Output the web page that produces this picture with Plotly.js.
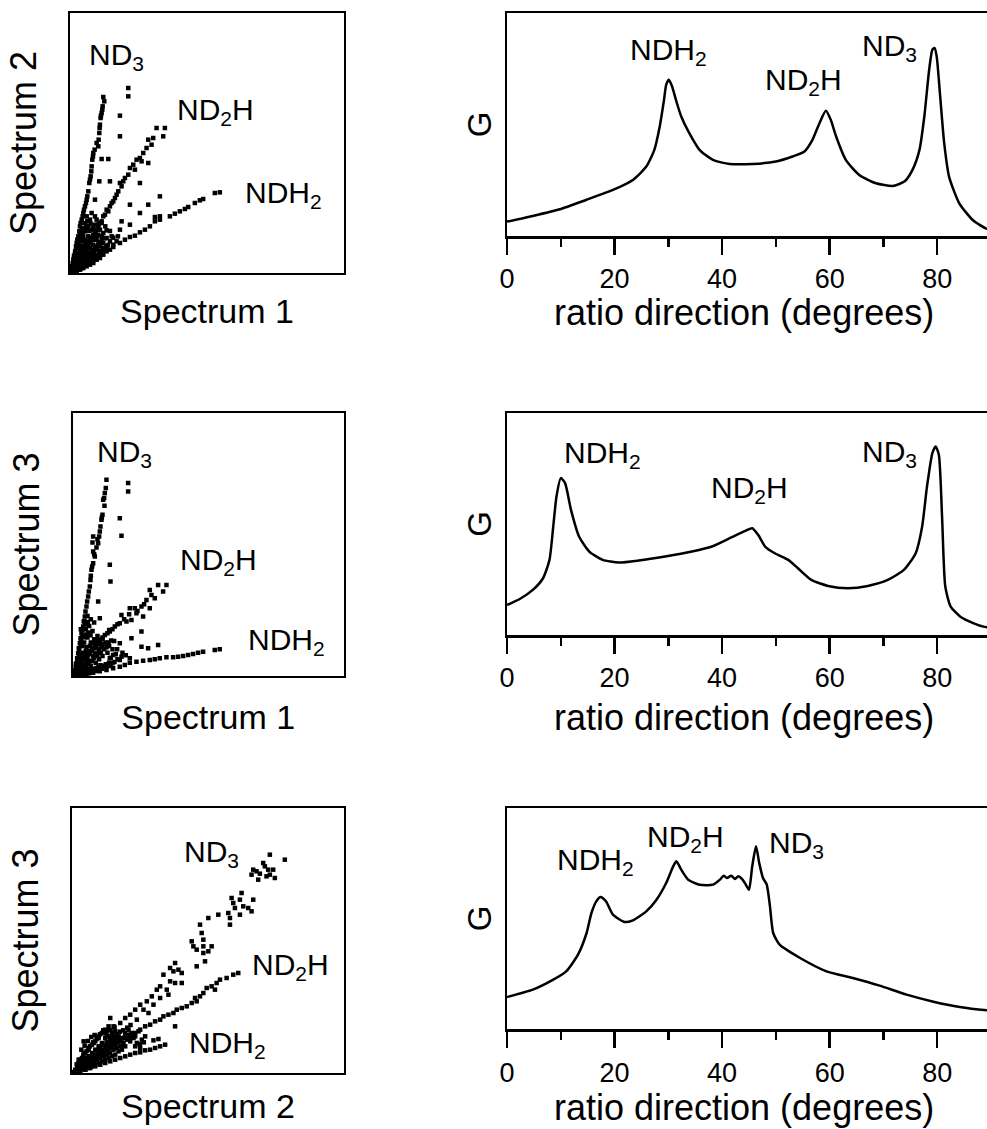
<!DOCTYPE html>
<html>
<head>
<meta charset="utf-8">
<script src="https://cdn.plot.ly/plotly-3.0.1.min.js"></script>
<style>
html, body { margin: 0; padding: 0; overflow: hidden; background: #fff; }
#chart { width: 1000px; height: 1129px; }
</style>
</head>
<body>
<div id="chart"></div>
<script>
// ---------------- DATA ----------------
// Scatter panel 1: Spectrum 1 (x) vs Spectrum 2 (y), arbitrary intensity units
const p1_ND3 = [[10,52.8],[10.3,51.5],[9.8,50],[9.5,48],[9.2,46.5],[9,44.5],[8.8,42],[8.5,38],[7,36],[6.7,34],[6.5,32],[6.2,29],[5.8,27],[5.5,24.5],[5,22],[4.5,20],[4,18],[3.5,16],[3,14],[2.5,11],[2,9],[1.5,6],[1,3],
  [9.7,49],[9.3,47.2],[8.9,43.5],[8.6,40],[8.0,39],[7.4,37],[6.9,35],[6.4,30.5],[6.0,28],[5.2,23],[4.8,21],[4.2,19],[3.8,17],[3.2,15],[2.8,12.5],[2.2,10],[1.8,8],[1.2,4.5],
  [17.5,55.5],[17.5,53],[15,47.2],[15,41],[11.5,34.2],[9.5,34.2],[8.8,27.5],[7.5,22]];
const p1_ND2H = [[28.5,43.5],[26,43.5],[28,41],[25,40.5],[23.5,40],[24.5,38.5],[23,37.5],[21,34.5],[21.5,33.5],[23.5,33],[19,32.5],[18,31.5],[17.5,29.5],[16,27.5],[15,27],[14.5,24.5],[14,23.5],[13,21.5],[12,20],[11.5,18.5],[10,17],[9.5,15.5],[8.5,14],[7.5,12],[6.5,10],[5.5,8],[4,6],[3,4],[2,2],
  [22,36],[20,34],[19.5,31],[16.5,28.5],[15.5,26],[13.5,22.5],[12.5,21],[11,19],[10.5,17.5],[9,15],[8,13],[7,11],[6,9],[5,7.5],[4.5,7],[3.5,5],[2.5,3],
  [21,27],[12,27.5],[18,20.5],[23.5,20.5],[21,18],[15.5,15.5],[18,14.5]];
const p1_NDH2 = [[45,24.2],[43.5,24],[40,22.2],[39,21.8],[37.5,21],[35.5,19.8],[34.5,19.2],[33,18.5],[31.5,17.8],[30,17],[27,16],[25.5,15.5],[24,14],[22.5,13],[21,12.2],[19.5,11.2],[18,10.8],[16.5,10],[15,9],[13,7.8],[11,6.5],[9,5.2],[7,3.8],[5,2.5],[3,1.5],
  [27,23],[27,17],[25.5,16.8],[15,13]];
const p1_core = [[0.5,0.5],[1,1],[1.5,0.8],[2,1.5],[1,2],[2.5,2],[3,2.5],[1.5,3],[2,3.5],[3,3],[4,3],[3.5,4],[2.5,4.5],[4.5,4.5],[5,4],[4,5.5],[3,6.5],[5.5,5.5],[6,5],[5,6.5],[4,8],[6.5,6.5],[7,6],[6,7.5],[5,9],[7.5,7.5],[8,7],[7,8.5],[6,10],[8.5,8.5],[9,8],[8,10],[7,11.5],[4.5,10],[3.5,9.5],[3,11.5],[5.5,11],[4.5,12.5],[6.5,13],[5.5,14],[4.5,15],[7.5,14.5],[9.5,10],[10,9],[11,10.5],[10,12],[12,9.5],[3.5,13],[2.5,9],[2,6],[1.5,5],[1,4],[0.5,2],[0.8,1.5],[2,0.5],[3,1],[4,1.5],[5,2],[6,2.5],[7,3],[8,4],[9,4.5],[10,5.5],[6,4],[7,5],[8,5.5],[9,6.5],[10,7.5],[11,8],[12,7],[13,8.5],[14,9.5],[12.5,11],[8.5,11.5],[9,13],[6,16],[5,17],[6.5,18],[7.5,17],[8,16],[9.5,15],[5,13.5],[4,11],
  [1.2,0.6],[1.8,1.2],[2.4,1.0],[2.8,1.8],[3.4,1.4],[3.8,2.2],[4.4,2.4],[4.8,3.2],[5.4,2.8],[5.8,3.6],[6.4,3.4],[6.8,4.2],[7.4,4.4],[7.8,5.0],[8.4,5.2],[8.8,6.0],[9.4,6.4],[9.8,7.0],[10.4,6.8],[10.8,7.6],[11.4,8.4],[1.4,1.8],[1.8,2.6],[2.2,2.4],[2.6,3.2],[3.2,3.8],[3.6,3.2],[4.2,4.0],[4.6,5.0],[5.2,4.8],[5.6,6.0],[6.2,5.6],[6.6,7.0],[7.2,6.6],[7.6,8.0],[8.2,7.6],[8.6,9.2],[9.2,9.0],[9.6,11.0],[10.4,10.4],[1.2,2.6],[1.6,3.8],[2.0,4.4],[2.4,5.4],[2.8,6.0],[3.2,7.4],[3.6,8.2],[4.2,7.0],[4.6,8.6],[5.2,8.0],[5.6,9.6],[6.2,9.0],[6.6,10.6],[7.2,10.0],[7.6,12.4],[8.2,11.2],[0.8,3.0],[1.2,5.2],[1.6,6.6],[2.0,7.6],[2.4,8.4],[2.8,10.2],[3.2,10.6],[3.8,12.0],[4.2,13.4],[4.8,14.2],[5.2,15.6],[5.8,12.6],[6.2,14.8],[7.0,13.6],[0.4,1.2],[0.6,0.2],[1.0,0.4],[13.0,10.6],[14.4,11.0],[12.0,12.6],[11.0,12.8],[10.6,14.0],[8.6,14.6]];

// Scatter panel 2: Spectrum 1 (x) vs Spectrum 3 (y)
const p2_ND3 = [[10.2,58.8],[10,56.3],[9.7,54.8],[9.5,53.3],[9.2,52.8],[9,48.3],[8.7,46.8],[8.4,44.8],[8.2,43.3],[8,41.8],[6.2,41.8],[7.7,39.8],[6.2,37.3],[6.7,35.8],[6.2,33.8],[5.7,31.8],[5.4,28.8],[5.2,26.8],[4.7,23.8],[4.2,20.8],[3.7,17.8],[3.2,14.8],[2.7,12.8],[2.2,9.8],[1.7,6.8],[1.2,3.8],
  [9.6,51],[8.8,47.5],[7.2,38.5],[6.5,36.5],[5.9,32.8],[5.5,30],[4.9,25.3],[4.4,22.3],[3.9,19.3],[3.4,16.3],[2.9,13.8],[2.4,11.3],[1.9,8.3],[1.4,5.3],[6,40],[7.5,41],
  [16.7,57.8],[16.7,55.3],[14.2,47.3],[14.7,42],[11.2,33.3],[11.4,28.3],[7.7,22.3],[11,13.8]];
const p2_ND2H = [[28.2,27.3],[25.7,27.3],[27.2,25.3],[23.2,25.8],[23.7,24.3],[22.2,22.8],[24.7,23.3],[20.7,20.8],[18.7,20.3],[17.2,20.3],[19.2,18.8],[23.2,20.3],[21.2,17.8],[17.7,16.8],[16.2,16.3],[14.7,18.3],[14.2,15.8],[12.7,14.8],[11.2,13.3],[9.7,12.3],[8.2,10.8],[6.7,9.3],[5.2,7.3],[3.7,5.3],[2.2,3.3],
  [13.5,15.5],[12,14],[10.5,12.8],[9,11.5],[7.5,10],[6,8.3],[4.5,6.3],[3,4.3],[15.5,17],[17,18.5],[19.5,19.5],[21.5,21.5],
  [20.7,13.3],[17.7,11.3],[14.2,9.8],[20.7,8.8],[22.7,8.3],[25.7,9.3],[8.2,17.3]];
const p2_NDH2 = [[44.2,8],[42.7,7.8],[39.2,7.3],[37.7,7],[36.2,6.6],[34.7,6.3],[33.2,6],[31.7,5.8],[30.2,5.6],[28.2,5.6],[26.2,5.3],[24.7,5],[23.2,4.8],[21.2,4.6],[19.2,4.3],[17.2,4],[15.7,3.3],[14.2,2.8],[12.2,2.3],[10.2,1.8],[8.2,1.4],[6.2,1],[4.2,0.6],[2.2,0.3],
  [12.2,6.3],[14.7,5.8],[17.2,5.3],[11.2,5.3]];
const p2_core = [[0.5,0.5],[1,0.3],[1.5,1],[2,0.5],[1,1.5],[2.5,1.5],[3,1],[3.5,2],[2,2.5],[1.5,3],[3,3.5],[4,2.5],[4.5,3.5],[5,2],[5.5,3],[2.5,5],[3.5,5.5],[4.5,5],[5,6.5],[6,4.5],[6.5,5.5],[7,4],[7.5,6],[8,5],[8.5,7],[9,6],[6,7.5],[7,8.5],[4,7.5],[3,7],[2,6],[1.5,5],[1,3.5],[2.5,9],[3.5,10],[4.5,11.5],[5.5,10],[6.5,11],[7.5,12],[3,12],[4,14],[5,15],[6,13.5],[9.5,8],[10.5,7],[11,9],[10,10],[12,8],[12.5,10.5],[13,6.5],[9,3],[10,3.5],[11,4],[8,2],[7,1.5],[6,1],[5,0.8],[4,0.5],[3,0.3],[11.5,5.5],[13.5,5],[8.5,9.5],[9,11],[5.5,17],[4.5,18],[6.5,16],[3.5,16.5],[2.5,14],
  [1.2,0.6],[1.8,0.8],[2.4,0.9],[3.0,1.4],[3.6,1.0],[4.2,1.6],[4.8,1.2],[5.4,1.8],[6.0,1.6],[6.6,2.2],[7.2,2.4],[7.8,2.8],[8.4,3.2],[9.0,2.2],[9.6,3.0],[10.2,2.8],[10.8,3.6],[11.4,3.0],[12.0,3.8],[12.6,4.2],[1.4,2.0],[2.0,2.2],[2.6,2.8],[3.2,2.6],[3.8,3.2],[4.4,4.2],[5.0,4.0],[5.6,4.6],[6.2,6.0],[6.8,6.6],[7.4,7.0],[8.0,8.2],[8.8,8.6],[9.4,9.6],[10.2,8.6],[10.8,10.0],[11.6,10.6],[1.0,2.6],[1.4,4.0],[1.8,4.6],[2.2,3.8],[2.6,6.4],[3.2,5.0],[3.8,6.6],[4.2,8.6],[4.8,7.4],[5.2,9.0],[5.8,8.2],[6.2,9.8],[6.8,10.0],[7.2,11.0],[8.0,9.6],[2.0,8.0],[2.6,10.4],[3.0,9.0],[3.6,11.6],[4.0,12.4],[4.8,13.0],[5.4,12.2],[3.2,14.0],[3.8,15.4],[4.6,16.2],[0.8,1.8],[0.6,0.8],[1.2,0.2],[14.2,4.8],[15.0,7.0],[13.4,8.0],[16.0,6.2]];

// Scatter panel 3: Spectrum 2 (x) vs Spectrum 3 (y)
const p3_ND3 = [[59.5,65.5],[64,64],[57.5,63],[58,62],[54.5,61],[55.5,60.5],[59,61],[60.5,61],[56.5,59.8],[59.5,59.5],[54,59.5],[61,58.5],[56,58],[58.5,59],
  [51,54],[48,52.5],[50.5,52],[54.5,52],[48.5,51],[51.5,50],[53,49.5],[49,49.5],[54,48.5],[47,48],[50.5,47.5],[44,47.5],[41,46.5],[47.5,46.5],[47.5,44.5],[38.5,44.5],
  [39,42],[39.5,40],[36,39.5],[36.5,38],[39.5,38],[42,38],[37.5,37],[41,36.5],[39.5,36],[40,33.5],[37.5,32],
  [31,33],[29.5,31.5],[32,31],[30.5,30.5],[33,30],[27.5,29.5],[29.5,27.5],[31,27],[33,27],[26.5,26],[25.5,25],[28.5,25],[29,23.5],[24,23],[26.5,22.5],[22.5,21.5],[24.5,20.5],[20.5,20.5],[19,19],[21.5,19],[23,18],[17.5,17.5],[16,16.5],[19.5,16],[14.5,15],[12.5,14],[11.5,16.5],[11,13],[9.5,12],[8,10.5],[6.5,9],[5,7.5],[3.5,9.5],[3.5,6],[2,4]];
const p3_ND2H = [[50,30],[48.5,29.5],[46.5,28.5],[44.5,28],[43.5,27],[42,26],[43,25],[40.5,25.5],[39.5,24],[38.5,23],[37,22.5],[37.5,21.5],[36,21],[34.5,20],[33,19.5],[31.5,19],[30.5,18],[29,17.5],[27.5,17],[26.5,16],[25,15.5],[23.5,14.5],[22,14],[20.5,13],[19,12],[17.5,11.5],[16,10.5],[14.5,9.5],[13,8.5],[11.5,7.5],[10,6.5],[8.5,5.5],[7,4.5],[5.5,3.5],[4,2.5],[31,14]];
const p3_NDH2 = [[28,8.5],[26.5,8],[26,10.2],[24.5,9.8],[25,7.5],[23.5,7],[22,6.8],[20.5,7.5],[20.5,6.2],[19,6],[17.5,5.5],[16,5],[14.5,4.5],[13,4],[11.5,3.5],[10,3],[8.5,2.5],[7,2],[5.5,1.5],[4,1],[2.5,0.5]];
const p3_core = [[0.5,0.3],[1,1],[1.5,0.5],[2,1.5],[2.5,1],[3,2],[3.5,1.5],[4,3],[4.5,2],[5,3.5],[5.5,2.5],[6,4.5],[6.5,3],[7,5],[7.5,4],[8,6],[8.5,4.5],[9,6.5],[9.5,5],[10,7.5],[10.5,5.5],[11,8],[11.5,6],[12,9],[12.5,7],[13,10],[13.5,7.5],[14,11],[14.5,8],[15,10.5],[15.5,9],[16,12],[16.5,10],[17,13],[17.5,9.5],[18,12],[2,3],[3,4.5],[4,6],[5,7],[6,8.5],[7,9.5],[8,11],[9,12],[10,13],[11,14],[12,12],[9,9],[10,10.5],[11,11],[12,10.5],[13,12.5],[7,7],[8,8],[6,6],[5,5],[4,4.5],[3,3],[14,6.5],[15,7],[16,8],[13,5.5],[12,5],[11,4.5],[10,4],[9,3.5],[8,3],[7,2.5],[6,2],[5,1.5],[4,1],[19,11],[20,12.5],[21,10],[19.5,9],[18.5,10.5],
  [1.2,0.6],[1.8,0.9],[2.4,1.6],[3.2,1.2],[3.8,2.4],[4.2,2.0],[4.8,2.8],[5.2,3.0],[5.8,3.6],[6.2,3.4],[6.8,4.0],[7.2,4.4],[7.8,4.8],[8.2,5.2],[8.8,5.6],[9.2,6.0],[9.8,6.2],[10.2,6.8],[10.8,7.0],[11.2,7.4],[11.8,7.8],[12.2,8.2],[12.8,8.6],[13.2,9.0],[13.8,9.4],[14.2,9.6],[14.8,10.0],[15.2,8.2],[15.8,10.6],[16.2,11.0],[16.8,11.4],[17.2,11.2],[17.8,10.6],[18.2,11.6],[1.6,1.8],[2.6,2.6],[3.4,3.4],[4.4,4.0],[5.4,5.0],[6.4,5.8],[7.4,6.8],[8.4,7.4],[9.4,8.4],[10.4,9.2],[11.4,10.0],[12.4,11.0],[13.4,11.6],[14.4,12.4],[15.4,12.8],[2.2,2.2],[3.6,2.8],[4.6,3.2],[5.6,4.2],[6.6,4.8],[7.6,5.4],[8.6,6.2],[9.6,7.0],[10.6,8.0],[11.6,8.8],[12.6,9.6],[13.6,10.4],[1.4,2.6],[2.4,4.0],[3.4,5.2],[4.4,6.6],[5.4,8.0],[6.4,9.2],[7.4,10.2],[8.4,11.6],[9.4,12.8],[10.4,11.8],[2.8,7.0],[3.8,8.2],[4.8,9.6],[5.8,10.8],[6.8,11.4],[19.0,8.0],[20.4,8.6],[21.6,9.2],[22.0,11.0],[16.6,13.6],[17.6,14.4],[12.8,13.8],[11.6,12.8]];

// Line panels: G versus ratio direction (degrees)
const r1_deg = [0,4.8,9.8,14.7,19.7,23.4,25.9,27.4,28.4,29.2,29.6,30.1,30.7,31.5,32.4,33.9,35.8,38.3,41.4,45.7,50.0,53.1,55.3,56.8,58.1,59.3,60.2,61.2,63.0,65.5,68.6,71.7,73.9,75.4,76.7,77.6,78.5,79.1,79.5,79.9,80.5,81.3,82.2,84.1,86.6,89.0,90];
const r1_G   = [4.3,6,8,10.8,13.8,16.8,20.8,25.8,32.8,40.8,45.3,46.8,44.8,40.3,35.8,30.8,25.8,22.8,21.6,21.6,22.3,23.8,25.3,28.8,33.8,37.5,34.8,29.8,22.8,18.3,15.8,15,16.3,19.8,25.8,35.8,49.8,55.8,56.3,53.8,42.8,27.8,17.8,9.8,4.8,2.3,2.0];
const r2_deg = [0,2.3,4.8,6.7,7.9,8.6,9.2,10.0,10.8,11.9,13.4,15.3,17.8,20.8,24.5,29.4,34.4,38.1,41.8,44.3,45.6,46.7,48.0,49.8,52.3,54.1,56.6,59.7,63.4,67.1,70.8,73.8,76.0,77.2,78.1,79.1,79.7,80.3,80.9,81.5,82.5,84.3,86.8,88.6,90];
const r2_G   = [9,10.7,13.5,17,22.5,32.5,41.5,47,45.5,37.5,29.5,25,22.5,21.7,22.3,23.5,25,26.5,29.3,31.2,32,30,26.5,24.5,22.5,20,16.5,14.7,14,14.7,16.5,19.5,24.5,32.5,44.5,54.5,56.5,54,35.5,14.5,8.5,5.5,3.5,2.5,2.2];
const r3_deg = [0,4.8,8.6,11.0,13.2,14.8,15.7,16.6,17.4,18.4,19.7,21.9,23.4,25.9,27.8,29.6,30.9,31.5,32.4,33.7,35.8,38.3,39.6,40.3,40.9,41.7,42.4,43.0,43.8,44.4,45.0,45.6,46.3,46.9,47.6,48.3,48.9,49.5,50.7,54.5,59.4,64.3,69.3,74.3,79.3,84.2,89.2,90];
const r3_G   = [9.6,11.8,14.8,17.3,22.3,28.8,34.8,38.3,39.6,38.3,34.3,32.1,32.6,35.3,38.8,43.8,48.8,50.3,47.8,44.8,43.3,43.3,44.8,46,45.3,46,45,45.8,44.8,43.3,41.8,48.8,54.8,49.8,45.3,43.3,36.8,28.8,25.3,21.3,17.3,15.3,13,10.3,8.2,6.6,5.6,5.5];

const leftXTitles = ["Spectrum 1", "Spectrum 1", "Spectrum 2"];
const leftYTitles = ["Spectrum 2", "Spectrum 3", "Spectrum 3"];
const rightXTitle = "ratio direction (degrees)";
const rightYTitle = "G";
const xTickVals = [0, 20, 40, 60, 80];
const xTickText = ["0", "20", "40", "60", "80"];

// ---------------- LAYOUT ----------------
const W = 1000, H = 1129;
const FONT = "Liberation Sans, Arial, Helvetica, sans-serif";
const dom = (top, bottom) => [1 - bottom / H, 1 - top / H];

const traces = [];
function scatterTrace(groups, xa, ya) {
  const pts = [].concat(...groups);
  traces.push({
    type: "scatter", mode: "markers", xaxis: xa, yaxis: ya,
    x: pts.map(p => p[0]), y: pts.map(p => p[1]),
    marker: { symbol: "square", size: 4.5, color: "#000" },
    hoverinfo: "skip", showlegend: false
  });
}
function lineTrace(xs, ys, xa, ya) {
  traces.push({
    type: "scatter", mode: "lines", xaxis: xa, yaxis: ya,
    x: xs, y: ys,
    line: { color: "#000", width: 2.5, shape: "spline", smoothing: 0.6 },
    hoverinfo: "skip", showlegend: false
  });
}
scatterTrace([p1_core, p1_ND3, p1_ND2H, p1_NDH2], "x", "y");
lineTrace(r1_deg, r1_G, "x2", "y2");
scatterTrace([p2_core, p2_ND3, p2_ND2H, p2_NDH2], "x3", "y3");
lineTrace(r2_deg, r2_G, "x4", "y4");
scatterTrace([p3_core, p3_ND3, p3_ND2H, p3_NDH2], "x5", "y5");
lineTrace(r3_deg, r3_G, "x6", "y6");

const leftBoxes = [
  { x: [70, 344], y: [13, 273], xr: [0, 82.3], yr: [0, 78] },
  { x: [72.5, 344], y: [413, 676], xr: [0, 81.5], yr: [0, 78.8] },
  { x: [72, 344], y: [808, 1073], xr: [0, 81.8], yr: [0, 79.5] }
];
const rightBoxes = [
  { y: [13, 236], yr: [0, 66.8], titleY: 312, tls: 1 },
  { y: [413, 635], yr: [0, 66.5], titleY: 717, tls: 1 },
  { y: [808, 1029], yr: [0, 66.3], titleY: 1107, tls: 2 }
];
const leftXStandoff = [25, 28, 20];

const layout = {
  width: W, height: H,
  margin: { l: 0, r: 0, t: 0, b: 0 },
  paper_bgcolor: "#fff", plot_bgcolor: "#fff",
  font: { family: FONT, color: "#000" },
  showlegend: false,
  annotations: []
};

for (let i = 0; i < 3; i++) {
  const lb = leftBoxes[i], rb = rightBoxes[i];
  const nL = 2 * i + 1, nR = 2 * i + 2;
  const kL = nL === 1 ? "" : String(nL), kR = String(nR);
  layout["xaxis" + kL] = {
    domain: [lb.x[0] / W, lb.x[1] / W], range: lb.xr, anchor: "y" + kL,
    showline: true, mirror: true, linewidth: 2, linecolor: "#000",
    showgrid: false, zeroline: false, ticks: "", showticklabels: false, fixedrange: true,
    title: { text: leftXTitles[i], font: { size: 34, family: FONT }, standoff: leftXStandoff[i] }
  };
  layout["yaxis" + kL] = {
    domain: dom(lb.y[0], lb.y[1]), range: lb.yr, anchor: "x" + kL,
    showline: true, mirror: true, linewidth: 2, linecolor: "#000",
    showgrid: false, zeroline: false, ticks: "", showticklabels: false, fixedrange: true,
    title: { text: leftYTitles[i], font: { size: 36, family: FONT }, standoff: 20 }
  };
  layout["xaxis" + kR] = {
    domain: [507 / W, 991 / W], range: [0, 90], anchor: "y" + kR,
    showline: true, mirror: true, linewidth: 2.5, linecolor: "#000",
    showgrid: false, zeroline: false, fixedrange: true,
    ticks: "outside", ticklen: 16, tickwidth: 2.5, tickcolor: "#000",
    tickmode: "array", tickvals: xTickVals, ticktext: xTickText,
    tickfont: { size: 27, family: FONT }, ticklabelstandoff: rb.tls,
    minor: { dtick: 10, tick0: 0, ticks: "outside", ticklen: 8, tickwidth: 2.5, tickcolor: "#000", showgrid: false }
  };
  layout["yaxis" + kR] = {
    domain: dom(rb.y[0], rb.y[1]), range: rb.yr, anchor: "x" + kR,
    showline: true, mirror: true, linewidth: 2.5, linecolor: "#000",
    showgrid: false, zeroline: false, ticks: "", showticklabels: false, fixedrange: true,
    title: { text: rightYTitle, font: { size: 33, family: FONT }, standoff: 3 }
  };
  // x-axis title of the line panel, placed under its tick labels
  layout.annotations.push({
    text: rightXTitle, xref: "paper", yref: "paper",
    x: 744 / W, y: 1 - rb.titleY / H, xanchor: "center", yanchor: "middle",
    showarrow: false, font: { size: 36, family: FONT, color: "#000" }
  });
}

// Peak labels
const labelFont = { size: 30, family: FONT, color: "#000" };
function lab(text, x, y, xa, ya) {
  layout.annotations.push({ text: text, x: x, y: y, xref: xa, yref: ya,
    showarrow: false, xanchor: "center", yanchor: "middle", font: labelFont });
}
const ND3 = "ND<sub>3</sub>", ND2H = "ND<sub>2</sub>H", NDH2 = "NDH<sub>2</sub>";
lab(ND3, 14, 65, "x", "y");
lab(ND2H, 43.7, 48.5, "x", "y");
lab(NDH2, 64, 23.5, "x", "y");
lab(NDH2, 30, 55.2, "x2", "y2");
lab(ND2H, 55.1, 46.2, "x2", "y2");
lab(ND3, 71.1, 56.4, "x2", "y2");
lab(ND3, 15.5, 66.8, "x3", "y3");
lab(ND2H, 43.7, 34.3, "x3", "y3");
lab(NDH2, 64.2, 10.3, "x3", "y3");
lab(NDH2, 17.7, 54, "x4", "y4");
lab(ND2H, 45.0, 43.5, "x4", "y4");
lab(ND3, 71.1, 54.5, "x4", "y4");
lab(ND3, 42.1, 66, "x5", "y5");
lab(ND2H, 65.6, 32, "x5", "y5");
lab(NDH2, 46.7, 8.5, "x5", "y5");
lab(NDH2, 16.5, 50.3, "x6", "y6");
lab(ND2H, 33.2, 57.3, "x6", "y6");
lab(ND3, 53.8, 55.3, "x6", "y6");

Plotly.newPlot("chart", traces, layout, { staticPlot: true, displayModeBar: false });
</script>
</body>
</html>
